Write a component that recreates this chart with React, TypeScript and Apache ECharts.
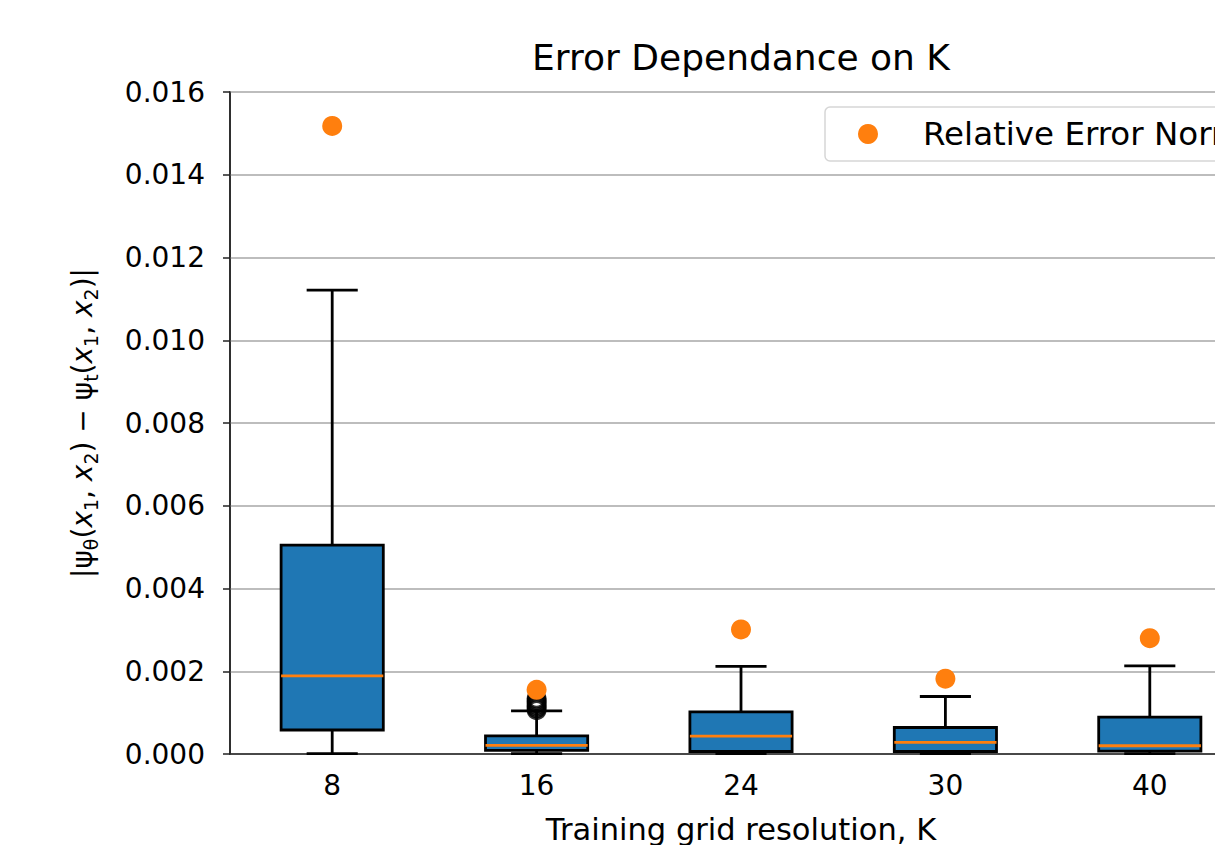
import React, { useEffect, useRef } from 'react';
import * as echarts from 'echarts';

// Training grid resolutions (x categories)
const categories = ['8', '16', '24', '30', '40'];
// Box statistics per category
const whiskerLow = [0.00001, 0.00001, 0.00001, 0.00001, 0.00001];
const q1Values = [0.00058, 0.00009, 0.00006, 0.00006, 0.00007];
const medianValues = [0.00189, 0.00021, 0.00043, 0.00028, 0.0002];
const q3Values = [0.00505, 0.00044, 0.00102, 0.00064, 0.00089];
const whiskerHigh = [0.01121, 0.00104, 0.00212, 0.00139, 0.00213];
// Outliers (only for K = 16)
const flierCategory = '16';
const flierValues = [0.00106, 0.0011, 0.00114, 0.00118, 0.00122, 0.00126, 0.0013, 0.00134];
// Relative error norm per category
const relErrorNorm = [0.01518, 0.00155, 0.00301, 0.00182, 0.0028];
// Y axis range
const yMin = 0;
const yMax = 0.016;
const yStep = 0.002;

const FONT = 'DejaVu Sans';

export default function App() {
  const ref = useRef<HTMLDivElement>(null);
  useEffect(() => {
    if (!ref.current) return;
    const chart = echarts.init(ref.current, undefined, { renderer: 'svg' });
    const boxData = categories.map((_, i) => [
      i,
      whiskerLow[i],
      q1Values[i],
      medianValues[i],
      q3Values[i],
      whiskerHigh[i],
    ]);
    const LW = 2.8;
    const option: any = {
      animation: false,
      backgroundColor: '#fff',
      title: {
        text: 'Error Dependance on K',
        left: 741,
        top: 39,
        textAlign: 'center',
        padding: 0,
        textStyle: { fontFamily: FONT, fontSize: 36, fontWeight: 'normal', color: '#000' },
      },
      legend: {
        left: 825,
        top: 107,
        orient: 'horizontal',
        padding: [10, 60, 10, 33],
        itemWidth: 20,
        itemHeight: 20,
        backgroundColor: 'rgba(255,255,255,0.8)',
        borderColor: '#d6d6d6',
        borderWidth: 1.5,
        borderRadius: 5,
        data: [{ name: 'Relative Error Norm', icon: 'circle' }],
        textStyle: {
          fontFamily: FONT,
          fontSize: 32.5,
          color: '#000',
          lineHeight: 34,
          padding: [0, 0, 0, 40],
        },
      },
      grid: {
        left: 230,
        top: 92,
        width: 1022,
        height: 662,
        outerBoundsMode: 'none',
        containLabel: false,
        show: true,
        borderColor: '#222',
        borderWidth: 1.5,
        backgroundColor: 'transparent',
      },
      xAxis: {
        type: 'category',
        data: categories,
        boundaryGap: true,
        name: 'Training grid resolution, K',
        nameLocation: 'middle',
        nameGap: 60,
        nameTextStyle: { fontFamily: FONT, fontSize: 30.5, color: '#000' },
        axisLine: { lineStyle: { color: '#222', width: 1.5 } },
        axisTick: { alignWithLabel: true, length: 7, lineStyle: { color: '#222', width: 1.5 } },
        axisLabel: { fontFamily: FONT, fontSize: 28, color: '#000', margin: 17 },
        splitLine: { show: false },
      },
      yAxis: {
        type: 'value',
        min: yMin,
        max: yMax,
        interval: yStep,
        name: '|ψ{sub|θ}({it|x}{sub|1}, {it|x}{sub|2}) − ψ{sub|t}({it|x}{sub|1}, {it|x}{sub|2})|',
        nameLocation: 'middle',
        nameRotate: 90,
        nameGap: 130,
        nameTextStyle: {
          fontFamily: FONT,
          fontSize: 28,
          color: '#000',
          lineHeight: 36,
          rich: {
            it: { fontFamily: FONT, fontSize: 28, fontStyle: 'italic', color: '#000', lineHeight: 36 },
            sub: { fontFamily: FONT, fontSize: 19, color: '#000', verticalAlign: 'bottom', lineHeight: 36 },
          },
        },
        axisLine: { show: true, lineStyle: { color: '#222', width: 1.5 } },
        axisTick: { show: true, length: 7, lineStyle: { color: '#222', width: 1.5 } },
        axisLabel: {
          fontFamily: FONT,
          fontSize: 28,
          color: '#000',
          margin: 25,
          formatter: (v: number) => v.toFixed(3),
        },
        splitLine: { show: true, lineStyle: { color: '#bdbdbd', width: 2 } },
      },
      series: [
        {
          type: 'custom',
          name: 'box',
          data: boxData,
          encode: { x: 0, y: [1, 2, 3, 4, 5] },
          z: 3,
          renderItem: (params: any, api: any) => {
            const xi = api.value(0);
            const pLo = api.coord([xi, api.value(1)]);
            const pQ1 = api.coord([xi, api.value(2)]);
            const pMed = api.coord([xi, api.value(3)]);
            const pQ3 = api.coord([xi, api.value(4)]);
            const pHi = api.coord([xi, api.value(5)]);
            const band = api.size([1, 0])[0];
            const bw = band * 0.5;
            const hw = bw / 2;
            const cw = bw / 4;
            const cx = pMed[0];
            const stroke = { stroke: '#000', lineWidth: LW };
            return {
              type: 'group',
              children: [
                { type: 'line', shape: { x1: cx, y1: pQ1[1], x2: cx, y2: pLo[1] }, style: stroke },
                { type: 'line', shape: { x1: cx, y1: pQ3[1], x2: cx, y2: pHi[1] }, style: stroke },
                { type: 'line', shape: { x1: cx - cw, y1: pLo[1], x2: cx + cw, y2: pLo[1] }, style: stroke },
                { type: 'line', shape: { x1: cx - cw, y1: pHi[1], x2: cx + cw, y2: pHi[1] }, style: stroke },
                {
                  type: 'rect',
                  shape: { x: cx - hw, y: pQ3[1], width: bw, height: pQ1[1] - pQ3[1] },
                  style: { fill: '#1f77b4', stroke: '#000', lineWidth: LW },
                },
                {
                  type: 'line',
                  shape: { x1: cx - hw, y1: pMed[1], x2: cx + hw, y2: pMed[1] },
                  style: { stroke: '#ff7f0e', lineWidth: LW },
                },
              ],
            };
          },
        },
        {
          type: 'scatter',
          name: 'fliers',
          data: flierValues.map((v) => [flierCategory, v]),
          symbol: 'circle',
          symbolSize: 17,
          z: 4,
          itemStyle: { color: 'rgba(0,0,0,0)', borderColor: '#000', borderWidth: 2.8 },
        },
        {
          type: 'scatter',
          name: 'Relative Error Norm',
          data: relErrorNorm.map((v, i) => [categories[i], v]),
          symbol: 'circle',
          symbolSize: 20,
          z: 5,
          itemStyle: { color: '#ff7f0e', opacity: 1 },
        },
      ],
    };
    chart.setOption(option);
    return () => chart.dispose();
  }, []);
  return (
    <div style={{ position: 'absolute', left: 0, top: 0, width: 1215, height: 845, overflow: 'hidden' }}>
      <div ref={ref} style={{ width: 1300, height: 845 }} />
    </div>
  );
}
